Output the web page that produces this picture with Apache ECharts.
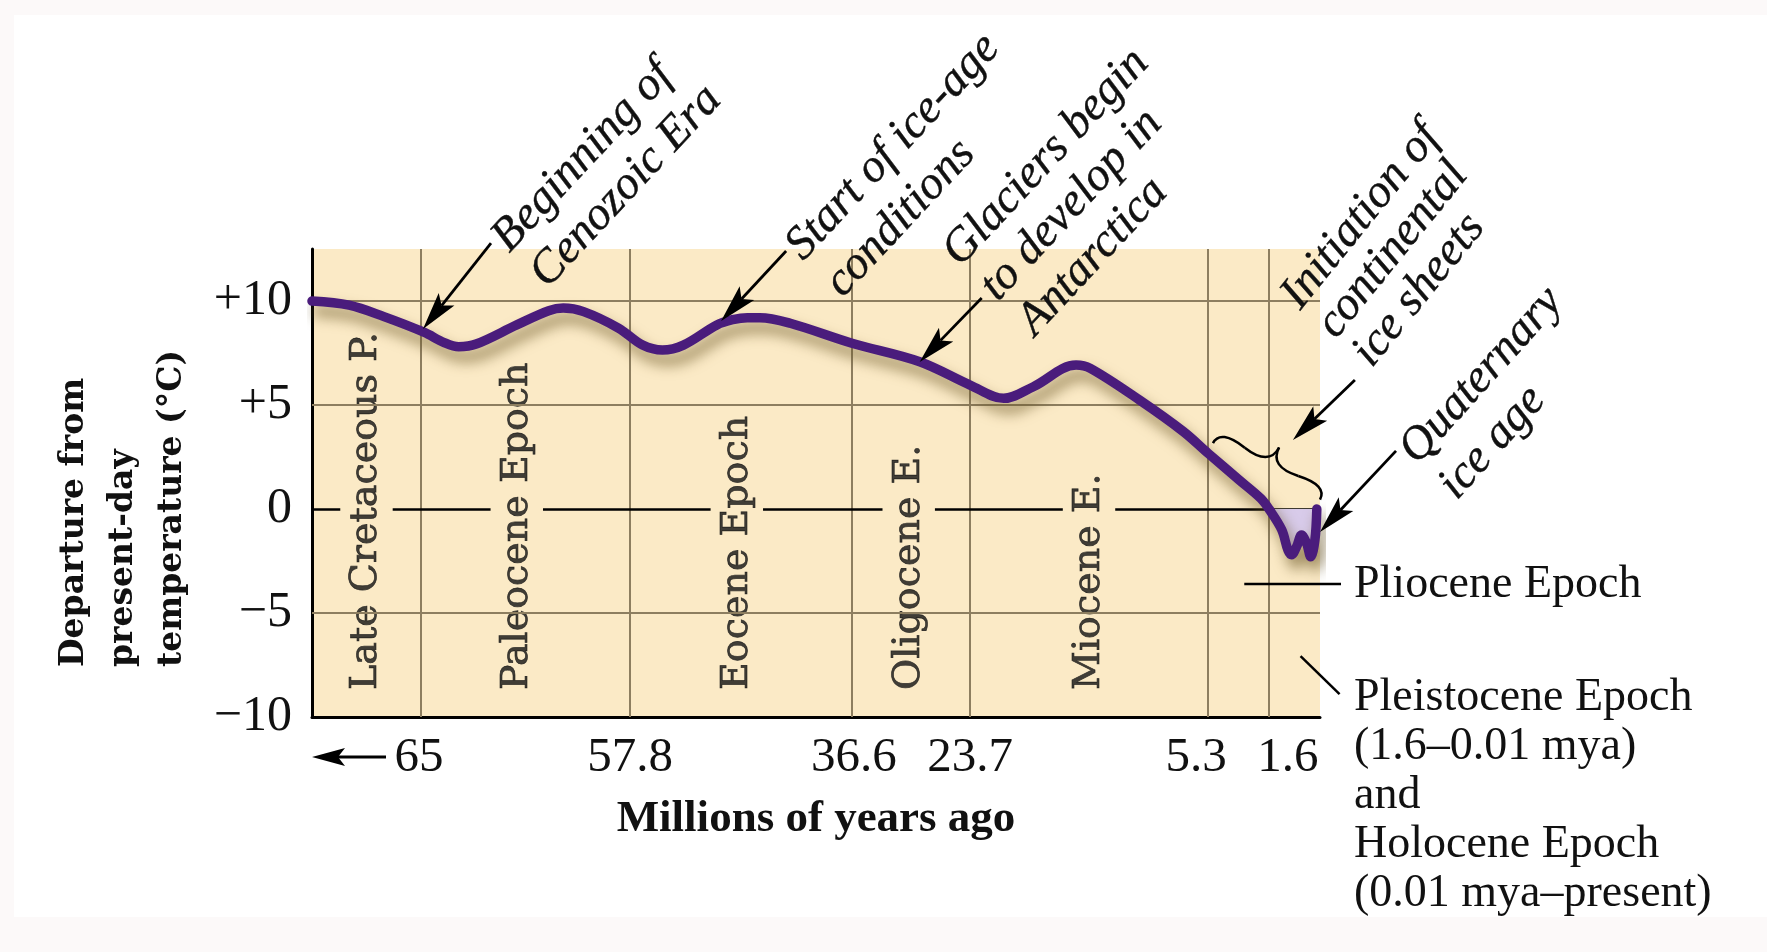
<!DOCTYPE html>
<html><head><meta charset="utf-8">
<script src="https://cdn.jsdelivr.net/npm/echarts@6/dist/echarts.min.js"></script>
<style>
html,body{margin:0;padding:0;background:#fcf9f9;}
#frame{position:absolute;left:14px;top:15px;width:1753px;height:902px;background:#ffffff;}
#chart{position:absolute;left:0;top:0;width:1767px;height:952px;}
</style></head>
<body><div id="frame"></div><div id="chart"></div>
<script>
// ================= DATA =================
// epoch boundaries (millions of years ago); 70 = left edge of the schematic axis
const boundaryMya = [70, 65, 57.8, 36.6, 23.7, 5.3, 1.6, 0];
const xTickMya = [65, 57.8, 36.6, 23.7, 5.3, 1.6];
const xTickLabels = ['65', '57.8', '36.6', '23.7', '5.3', '1.6'];
const yTickValues = [-10, -5, 0, 5, 10];
const yTickLabels = ['\u221210', '\u22125', '0', '+5', '+10'];
const yGridValues = [-5, 5, 10];

// temperature departure curve
const tempMya = [70, 68.3, 66.7, 64.9, 64.2, 63.7, 63.1, 61.7, 60.6, 60.1,
  59.4, 58.2, 56.6, 54.7, 52.7, 49.5, 48.0, 46.6, 45.4, 42.5,
  36.6, 29.2, 23.7, 21.1, 18.8, 15.5, 14.4, 10.6, 7.2, 5.3,
  3.4, 2.1, 1.6, 1.2, 1.0, 0.89, 0.73, 0.58, 0.42, 0.29,
  0.16, 0.1];
const tempC = [10.0, 9.8, 9.25, 8.5, 8.0, 7.8, 7.93, 8.85, 9.53, 9.66,
  9.49, 8.7, 7.88, 7.64, 7.88, 8.85, 9.1, 9.2, 9.2, 8.93,
  7.97, 7.08, 5.96, 5.32, 5.88, 6.92, 6.76, 5.24, 3.72, 2.68,
  1.39, 0.51, 0.0, -1.0, -2.0, -2.2, -1.8, -1.25, -1.65, -2.3,
  -1.5, 0.0];
const quaternaryStartMya = 1.6;

const epochNames = ['Late Cretaceous P.', 'Paleocene Epoch', 'Eocene Epoch', 'Oligocene E.', 'Miocene E.'];
const epochLabelMya = [67.5, 61.7, 47.6, 30.4, 14.5];

const annotationLines = [
  ['Beginning of', 'Cenozoic Era'],
  ['Start of ice-age', 'conditions'],
  ['Glaciers begin', 'to develop in', 'Antarctica'],
  ['Initiation of', 'continental', 'ice sheets'],
  ['Quaternary', 'ice age']
];
const annotationTipMya = [64.93, 49.1, 29.2, 0.85, 0];
const annotationTipC = [8.65, 9.04, 7.07, 3.32, -1.1];
const plioceneText = 'Pliocene Epoch';
const pleistoceneText = ['Pleistocene Epoch', '(1.6\u20130.01 mya)', 'and', 'Holocene Epoch', '(0.01 mya\u2013present)'];
const yTitleLines = ['Departure from', 'present-day', 'temperature (\u00b0C)'];
const xTitle = 'Millions of years ago';

// ================= LAYOUT =================
const boundaryPos = [0, 10.81, 31.55, 53.57, 65.28, 88.89, 94.94, 100]; // schematic axis positions
const xLabelShift = [-2, 0, 2, 0, -12, 19];
const epochLabelStartC = -8.7;
const zeroGapHalf = 2.6;
const annoLayout = [
  { base: [512, 256], angle: 47, spacing: 52, tail: [68, -86] },
  { base: [806, 264], angle: 47, spacing: 54, tail: [65, -70] },
  { base: [963, 270], angle: 47, spacing: 51, tail: [62, -64] },
  { base: [1303, 313], angle: 51, spacing: 46, tail: [62, -60] },
  { base: [1420, 468], angle: 48, spacing: 53, tail: [76, -81] }
];
const FONT_T = '"Liberation Serif", "Times New Roman", serif';
const FONT_C = '"DejaVu Serif", serif';

function toAxis(m) {
  for (let i = 0; i < boundaryMya.length - 1; i++) {
    const a = boundaryMya[i], b = boundaryMya[i + 1];
    if (m <= a && m >= b) {
      const t = (a - m) / (a - b);
      return boundaryPos[i] + t * (boundaryPos[i + 1] - boundaryPos[i]);
    }
  }
  return m > boundaryMya[0] ? 0 : 100;
}

const curve = tempMya.map((m, i) => [toAxis(m), tempC[i]]);
const quatCurve = tempMya.map((m, i) => [m, tempC[i]]).filter(d => d[0] <= quaternaryStartMya).map(d => [toAxis(d[0]), d[1]]);
const tickPos = xTickMya.map(toAxis);
const epochPos = epochLabelMya.map(toAxis);

// zero line segments, interrupted by the epoch labels
const zeroSegs = [];
let start = 0;
epochPos.forEach(p => { zeroSegs.push([{ coord: [start, 0] }, { coord: [p - zeroGapHalf, 0] }]); start = p + zeroGapHalf; });
zeroSegs.push([{ coord: [start, 0] }, { coord: [100, 0] }]);

const gridLineStyle = { color: '#8d7e60', width: 2, type: 'solid' };

const chart = echarts.init(document.getElementById('chart'));
const rich = {};
xLabelShift.forEach((s, i) => {
  rich['l' + i] = { fontFamily: FONT_T, fontSize: 49, color: '#111',
    padding: [0, s < 0 ? -2 * s : 0, 0, s > 0 ? 2 * s : 0] };
});

chart.setOption({
  animation: false,
  backgroundColor: 'transparent',
  grid: { left: 312, top: 249, width: 1008, height: 468, show: true, backgroundColor: '#fbeac6', borderWidth: 0, outerBoundsMode: 'none' },
  xAxis: {
    type: 'value', min: 0, max: 100,
    axisLine: { show: true, onZero: false, lineStyle: { color: '#000', width: 3 } },
    axisTick: { show: false },
    splitLine: { show: false },
    axisLabel: {
      customValues: tickPos, margin: 17,
      formatter: v => {
        let best = 0;
        tickPos.forEach((p, i) => { if (Math.abs(p - v) < Math.abs(tickPos[best] - v)) best = i; });
        return '{l' + best + '|' + xTickLabels[best] + '}';
      },
      rich: rich, fontFamily: FONT_T, fontSize: 49, color: '#111'
    },
    name: xTitle, nameLocation: 'middle', nameGap: 80,
    nameTextStyle: { fontFamily: FONT_T, fontWeight: 'bold', fontSize: 45, color: '#111' }
  },
  yAxis: {
    type: 'value', min: -10, max: 12.5, interval: 5,
    axisLine: { show: true, onZero: false, lineStyle: { color: '#000', width: 3 } },
    axisTick: { show: false },
    splitLine: { show: false },
    axisLabel: {
      margin: 20, showMaxLabel: false,
      formatter: v => { const i = yTickValues.indexOf(v); return i < 0 ? '' : yTickLabels[i]; },
      fontFamily: FONT_T, fontSize: 50, color: '#111'
    }
  },
  series: [
    { type: 'line', data: [], z: 1, silent: true,
      markLine: { silent: true, symbol: 'none', label: { show: false }, lineStyle: gridLineStyle, animation: false,
        data: tickPos.map(p => ({ xAxis: p })).concat(yGridValues.map(v => ({ yAxis: v }))) } },
    { type: 'line', data: [], z: 2, silent: true,
      markLine: { silent: true, symbol: 'none', label: { show: false }, lineStyle: { color: '#000', width: 2.5, type: 'solid' }, animation: false,
        data: zeroSegs } },
    { type: 'scatter', z: 3, silent: true, symbolSize: 1, itemStyle: { color: 'rgba(0,0,0,0)' },
      data: epochPos.map(p => [p, epochLabelStartC]),
      label: { show: true, position: 'inside', rotate: 90, align: 'left', verticalAlign: 'middle',
        formatter: p => epochNames[p.dataIndex], fontFamily: FONT_C, fontSize: 38, color: '#111',
        textBorderColor: '#111', textBorderWidth: 0.7 } },
    { type: 'line', z: 8, silent: true, data: quatCurve, smooth: 0.35, symbol: 'none',
      lineStyle: { width: 0 }, areaStyle: { color: '#d8cbea', opacity: 1, origin: 0 } },
    { type: 'line', z: 10, silent: true, data: curve, smooth: 0.35, symbol: 'none',
      lineStyle: { color: '#4a1c7c', width: 9.5, cap: 'round', join: 'round',
        shadowColor: 'rgba(100, 80, 30, 0.65)', shadowBlur: 14, shadowOffsetX: 5, shadowOffsetY: 10 } }
  ]
});

// ================= ANNOTATIONS =================
function px(m, c) { return chart.convertToPixel({ gridIndex: 0 }, [toAxis(m), c]); }
const g = [];
function arrow(tip, tail) {
  const dx = tip[0] - tail[0], dy = tip[1] - tail[1], L = Math.hypot(dx, dy);
  const ux = dx / L, uy = dy / L, pxn = -uy, pyn = ux;
  const hl = 38, hw = 10, notch = 8;
  const bx = tip[0] - ux * hl, by = tip[1] - uy * hl;
  const nx = tip[0] - ux * (hl - notch), ny = tip[1] - uy * (hl - notch);
  g.push({ type: 'line', z: 100, shape: { x1: tail[0], y1: tail[1], x2: nx, y2: ny }, style: { stroke: '#000', lineWidth: 2.8 } });
  g.push({ type: 'polygon', z: 100, shape: { points: [tip, [bx + pxn * hw, by + pyn * hw], [nx, ny], [bx - pxn * hw, by - pyn * hw]] }, style: { fill: '#000' } });
}
function rotText(lines, base, angleDeg, spacing, font) {
  const th = angleDeg * Math.PI / 180, s = Math.sin(th), c = Math.cos(th);
  lines.forEach((t, i) => {
    const bx = base[0] + s * spacing * i, by = base[1] + c * spacing * i;
    g.push({ type: 'text', z: 100, x: bx - s * 0.34 * font.fontSize, y: by - c * 0.34 * font.fontSize, rotation: th,
      style: Object.assign({ text: t, fill: '#111', align: 'left', verticalAlign: 'middle' }, font) });
  });
}
const italicFont = { fontFamily: FONT_T, fontStyle: 'italic', fontSize: 47, stroke: '#111', lineWidth: 0.4 };
annotationLines.forEach((lines, i) => {
  const L = annoLayout[i];
  const tip = px(annotationTipMya[i], annotationTipC[i]);
  arrow(tip, [tip[0] + L.tail[0], tip[1] + L.tail[1]]);
  rotText(lines, L.base, L.angle, L.spacing, italicFont);
});

// brace over the late part of the curve (four quadratic curves)
(function () {
  const p1 = px(0, 0.45), p2 = px(5.0, 3.17);
  const w = 27, q = 0.6;
  let dx = p1[0] - p2[0], dy = p1[1] - p2[1];
  const len = Math.hypot(dx, dy); dx /= len; dy /= len;
  const x1 = p1[0], y1 = p1[1], x2 = p2[0], y2 = p2[1];
  const q1 = [x1 + q * w * dy, y1 - q * w * dx];
  const q2 = [(x1 - .25 * len * dx) + (1 - q) * w * dy, (y1 - .25 * len * dy) - (1 - q) * w * dx];
  const t = [(x1 - .5 * len * dx) + w * dy, (y1 - .5 * len * dy) - w * dx];
  const q3 = [x2 + q * w * dy, y2 - q * w * dx];
  const q4 = [(x1 - .75 * len * dx) + (1 - q) * w * dy, (y1 - .75 * len * dy) - (1 - q) * w * dx];
  const r1 = [2 * q2[0] - q1[0], 2 * q2[1] - q1[1]];
  const r2 = [2 * q4[0] - q3[0], 2 * q4[1] - q3[1]];
  const segs = [[p1, q1, q2], [q2, r1, t], [p2, q3, q4], [q4, r2, t]];
  segs.forEach(s => g.push({ type: 'bezierCurve', z: 100,
    shape: { x1: s[0][0], y1: s[0][1], cpx1: s[1][0], cpy1: s[1][1], x2: s[2][0], y2: s[2][1] },
    style: { stroke: '#000', lineWidth: 2.5, fill: null } }));
})();

// Pliocene leader + label, Pleistocene/Holocene leader + label
(function () {
  const a = px(3.1, -3.6);
  g.push({ type: 'line', z: 100, shape: { x1: a[0], y1: a[1], x2: 1341, y2: a[1] }, style: { stroke: '#000', lineWidth: 2.5 } });
  g.push({ type: 'text', z: 100, x: 1354, y: a[1] + 1, style: { text: plioceneText, fontFamily: FONT_T, fontSize: 46, fill: '#111', align: 'left', verticalAlign: 'middle' } });
  const b = px(0.61, -7.07);
  g.push({ type: 'line', z: 100, shape: { x1: b[0], y1: b[1], x2: b[0] + 39, y2: b[1] + 38 }, style: { stroke: '#000', lineWidth: 2.5 } });
  g.push({ type: 'text', z: 100, x: 1354, y: 673, style: { text: pleistoceneText.join('\n'), lineHeight: 49, fontFamily: FONT_T, fontSize: 46, fill: '#111', align: 'left', verticalAlign: 'top' } });
})();

// y axis title (rotated, three lines starting at the same height)
rotText(yTitleLines, [86, 667], 90, 49, { fontFamily: FONT_C, fontWeight: 'bold', fontSize: 33 });

// "earlier" arrow on the x axis
(function () {
  const y = 757, x0 = 312;
  g.push({ type: 'line', z: 100, shape: { x1: x0 + 24, y1: y, x2: 386, y2: y }, style: { stroke: '#000', lineWidth: 3 } });
  g.push({ type: 'polygon', z: 100, shape: { points: [[x0, y], [x0 + 33, y - 9], [x0 + 26, y], [x0 + 33, y + 9]] }, style: { fill: '#000' } });
})();

chart.setOption({ graphic: { elements: g } });
</script>
</body></html>
